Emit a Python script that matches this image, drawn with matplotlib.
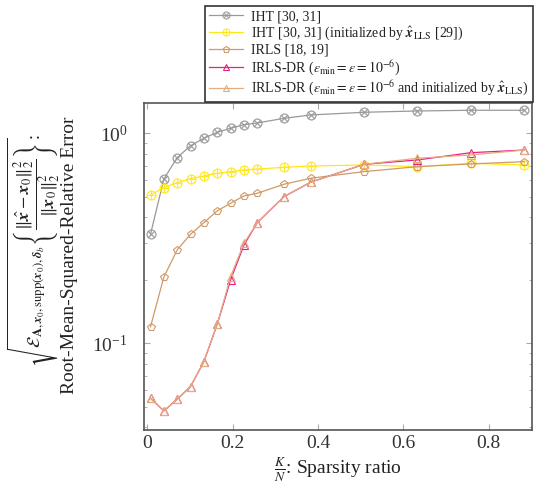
import numpy as np
import matplotlib
matplotlib.use("Agg")
import matplotlib.pyplot as plt
from matplotlib.ticker import LogLocator, NullFormatter, FixedLocator

plt.rcParams['font.family'] = ['Liberation Serif', 'DejaVu Serif']
plt.rcParams['mathtext.fontset'] = 'stix'

# sparsity ratio K/N (N = 128)
K = np.array([1, 5, 9, 13, 17, 21, 25, 29, 33, 41, 49, 65, 81, 97, 113])
sparsity = K / 128.0

iht = [0.331, 0.607, 0.767, 0.875, 0.949, 1.013, 1.059, 1.101, 1.122,
       1.181, 1.225, 1.262, 1.28, 1.29, 1.29]
iht_lls = [0.509, 0.552, 0.583, 0.609, 0.628, 0.646, 0.658, 0.670, 0.677,
           0.690, 0.700, 0.708, 0.695, 0.721, 0.708]
irls = [0.120, 0.207, 0.279, 0.331, 0.376, 0.428, 0.465, 0.504, 0.519,
        0.573, 0.612, 0.658, 0.695, 0.716, 0.734]
irls_dr = [0.0548, 0.0477, 0.0542, 0.0623, 0.0819, 0.1234, 0.2006, 0.294, 0.376,
           0.500, 0.586, 0.713, 0.748, 0.810, 0.834]
irls_dr_lls = [0.0548, 0.0477, 0.0542, 0.0623, 0.0819, 0.1234, 0.208, 0.300, 0.376,
               0.500, 0.586, 0.713, 0.762, 0.790, 0.834]

C_IHT = "#999999"
C_IHT_LLS = "#ffe81a"
C_IRLS = "#d09a68"
C_DR = "#e8207f"
C_DR_LLS = "#e2ad80"

XHAT = r"\hat{\boldsymbol{x}}_{\mathrm{LLS}}"
labels = [
    "IHT [30, 31]",
    "IHT [30, 31] (initialized by $" + XHAT + "$ [29])",
    "IRLS [18, 19]",
    r"IRLS-DR ($\epsilon_{\min}=\varepsilon=10^{-6}$)",
    r"IRLS-DR ($\epsilon_{\min}=\varepsilon=10^{-6}$ and initialized by $" + XHAT + "$)",
]


def main():
    fig = plt.figure(figsize=(5.38, 4.88), dpi=100)
    ax = fig.add_axes([0.268, 0.119, 0.720, 0.669])

    kw = dict(lw=0.9, mfc='none', mew=0.8)
    ax.plot(sparsity, iht, color=C_IHT, marker=r'$\otimes$', ms=7, mew=0.2, lw=0.9, label=labels[0])
    ax.plot(sparsity, iht_lls, color=C_IHT_LLS, marker=r'$\oplus$', ms=7, mew=0.2, lw=0.9, label=labels[1])
    ax.plot(sparsity, irls, color=C_IRLS, marker='p', ms=6, label=labels[2], **kw)
    ax.plot(sparsity, irls_dr, color=C_DR, marker='^', ms=6, label=labels[3], **kw)
    ax.plot(sparsity, irls_dr_lls, color=C_DR_LLS, marker='^', ms=6, label=labels[4], **kw)

    ax.set_yscale('log')
    ax.set_xlim(-0.007, 0.9)
    ax.set_ylim(0.0387, 1.39)
    ax.xaxis.set_major_locator(FixedLocator([0, 0.2, 0.4, 0.6, 0.8]))
    ax.set_xticklabels(["0", "0.2", "0.4", "0.6", "0.8"])
    ax.yaxis.set_minor_locator(LogLocator(base=10, subs=np.arange(2, 10)))
    ax.yaxis.set_minor_formatter(NullFormatter())
    ax.tick_params(which='both', direction='in', top=True, right=True,
                   color='#aaaaaa', labelsize=14, labelcolor='#333333')
    ax.tick_params(axis='y', pad=12)
    ax.tick_params(axis='x', pad=4)
    ax.tick_params(which='major', length=4)
    ax.tick_params(which='minor', length=2.5)
    for s in ax.spines.values():
        s.set_color('#555555')
        s.set_linewidth(1.2)

    ax.set_xlabel(r"$\frac{K}{N}$: Sparsity ratio", fontsize=14, labelpad=2, color='#222222')

    sqrt_lab = (r"$\sqrt{\mathcal{E}_{\mathbf{A},\boldsymbol{x}_0,\mathrm{supp}(\boldsymbol{x}_0),"
                r"\boldsymbol{\delta}_b}\left\{\dfrac{\Vert\hat{\boldsymbol{x}}-\boldsymbol{x}_0\Vert_2^2}"
                r"{\Vert\boldsymbol{x}_0\Vert_2^2}\right\}}$:")
    fig.text(34 / 538, 0.487, sqrt_lab, rotation=90, ha='center', va='center',
             fontsize=13, color='#222222')
    fig.text(70 / 538, 0.477, "Root-Mean-Squared-Relative Error", rotation=90,
             ha='center', va='center', fontsize=14, color='#222222')

    leg = fig.legend(loc='upper right', bbox_to_anchor=(0.99, 0.988), fontsize=10,
                     fancybox=False, edgecolor='#333333', framealpha=1,
                     handlelength=2.4, labelspacing=0.12, borderpad=0.3,
                     borderaxespad=0, handletextpad=0.6, markerscale=0.8)
    leg.get_frame().set_linewidth(1.2)
    for t in leg.get_texts():
        t.set_color('#222222')

    fig.savefig("out.png", dpi=100)


if __name__ == "__main__":
    main()
